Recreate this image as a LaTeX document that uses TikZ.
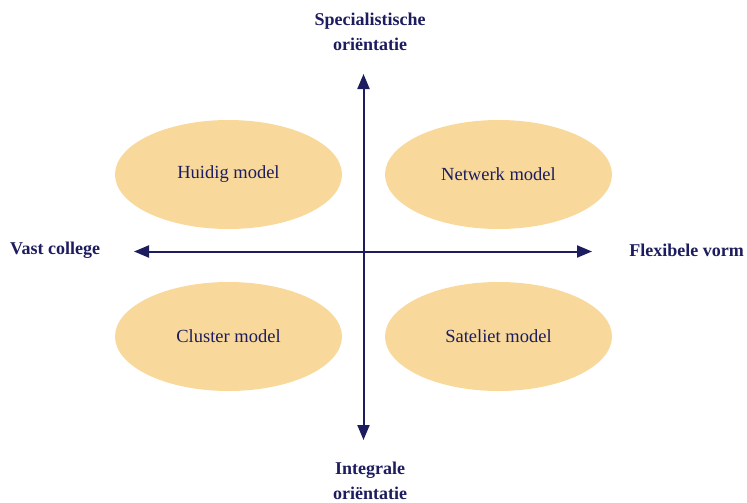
\documentclass[tikz,border=0pt]{standalone}
\usepackage{fontspec}
\setmainfont{Liberation Serif}
\usetikzlibrary{arrows.meta,shapes.geometric}
\definecolor{navy}{HTML}{1C1C5E}
\definecolor{sand}{HTML}{F8D99B}
\begin{document}
\begin{tikzpicture}[x=1pt,y=-1pt,
  model/.style={ellipse,fill=sand,draw=none,minimum width=227pt,minimum height=109pt,inner sep=0pt,
    text=navy,font=\fontsize{18.5}{22}\selectfont},
  axislabel/.style={text=navy,font=\bfseries\fontsize{18}{25}\selectfont,align=center,inner sep=0pt},
  axis/.style={draw=navy,line width=2pt,-{Triangle[length=15pt,width=12pt]}}]
\useasboundingbox (0,0) rectangle (747,503);
% four quadrant models
\node[model] (huidig)   at (228.5,174.5) {Huidig model};
\node[model] (netwerk)  at (498.5,174.5) {Netwerk model};
\node[model] (cluster)  at (228.5,336.5) {Cluster model};
\node[model] (sateliet) at (498.5,336.5) {Sateliet model};
% axis end points
\coordinate (c) at (363.5,251.5);
\coordinate (top) at (363.5,74);
\coordinate (bot) at (363.5,440);
\coordinate (lft) at (134,251.5);
\coordinate (rgt) at (592,251.5);
\draw[axis] (c) -- (top);
\draw[axis] (c) -- (bot);
\draw[axis] (c) -- (lft);
\draw[axis] (c) -- (rgt);
% axis labels
\node[axislabel] (spec) at (370,32) {Specialistische\\oriëntatie};
\node[axislabel] (integ) at (370,481) {Integrale\\oriëntatie};
\node[axislabel,anchor=west] (vast) at (10,250) {Vast college};
\node[axislabel,anchor=east] (flex) at (744,250) {Flexibele vorm};
\end{tikzpicture}
\end{document}
